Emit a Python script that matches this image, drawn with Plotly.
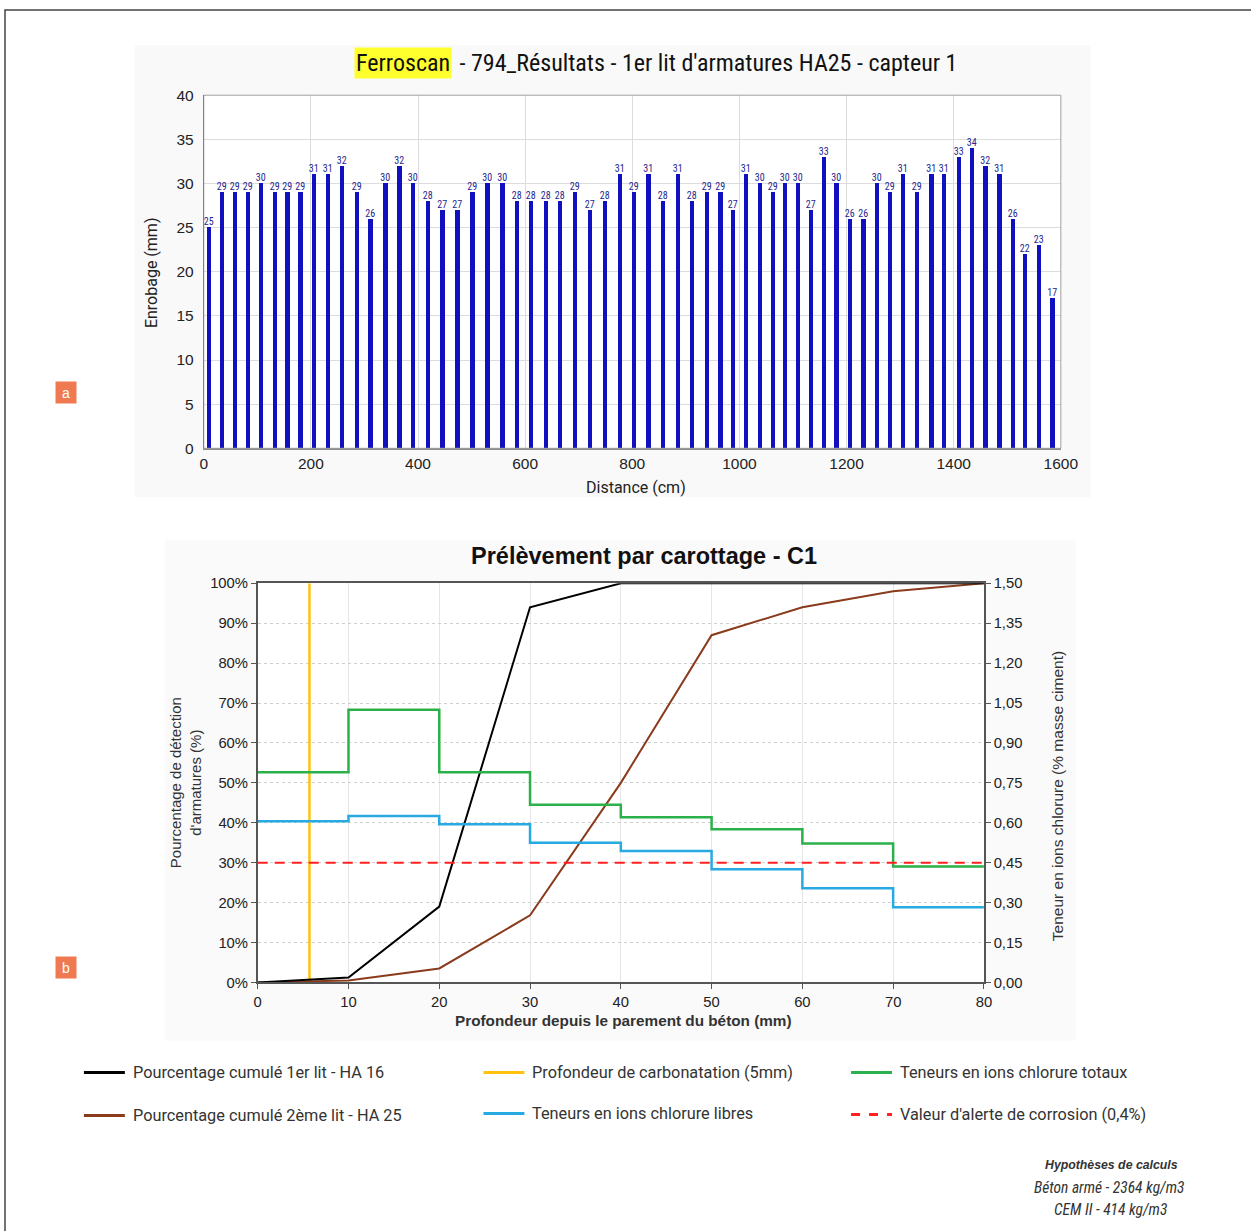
import plotly.graph_objects as go

W, H = 1251, 1231          # reference picture size
FW, FH = 1251, 1231        # figure size
# calibration of the photographed page: picture = offset + scale * figure pixel
OX, OY = 4.0, 8.8
SX, SY = 0.9835, 0.986

# ---------------- Top chart data (Ferroscan) ----------------
distance_cm = [9, 33, 58, 82, 107, 132, 156, 180, 205, 231,
               257, 285, 311, 339, 365, 390, 418, 445, 473, 501,
               529, 557, 584, 611, 638, 665, 692, 720, 748, 776,
               803, 830, 857, 885, 911, 939, 964, 988, 1012, 1038,
               1062, 1085, 1109, 1133, 1157, 1181, 1206, 1231, 1256, 1281,
               1305, 1331, 1358, 1382, 1409, 1434, 1459, 1485, 1510, 1533,
               1559, 1584]
enrobage_mm = [25, 29, 29, 29, 30, 29, 29, 29, 31, 31,
               32, 29, 26, 30, 32, 30, 28, 27, 27, 29,
               30, 30, 28, 28, 28, 28, 29, 27, 28, 31,
               29, 31, 28, 31, 28, 29, 29, 27, 31, 30,
               29, 30, 30, 27, 33, 30, 26, 26, 30, 29,
               31, 29, 31, 31, 33, 34, 32, 31, 26, 22,
               23, 17]

# ---------------- Bottom chart data (carottage C1) ----------------
depth_mm = [0, 10, 20, 30, 40, 50, 60, 70, 80]
cum_lit1_pct = [0, 1.2, 19, 94, 100, 100, 100, 100, 100]
cum_lit2_pct = [0, 0.5, 3.5, 16.8, 50, 87, 94, 98, 100]
step_start_mm = [0, 10, 20, 30, 40, 50, 60, 70]
chlorure_totaux = [0.79, 1.025, 0.79, 0.668, 0.621, 0.576, 0.522, 0.436]
chlorure_libres = [0.606, 0.625, 0.594, 0.525, 0.494, 0.425, 0.354, 0.282]
depth_end_mm = 80
carbonatation_mm = 5.7
alerte_corrosion = 0.45

legend_labels = ["Pourcentage cumulé 1er lit - HA 16",
                 "Pourcentage cumulé 2ème lit - HA 25",
                 "Profondeur de carbonatation (5mm)",
                 "Teneurs en ions chlorure libres",
                 "Teneurs en ions chlorure totaux",
                 "Valeur d'alerte de corrosion (0,4%)"]


def px(x):
    return (x - OX) / SX / FW


def py(y):
    return 1 - (y - OY) / SY / FH


NARROW = "Liberation Sans Narrow, Arial Narrow, Roboto Condensed, Roboto, sans-serif"
SANS = "Liberation Sans, Arial, sans-serif"
ROB = "Roboto, Liberation Sans, sans-serif"

fig = go.Figure()

# ---- Top chart bars ----
fig.add_trace(go.Bar(
    x=distance_cm, y=enrobage_mm, width=8,
    marker=dict(color="#1010C0", line=dict(width=0)),
    text=[str(v) for v in enrobage_mm], textposition="outside",
    constraintext="none", cliponaxis=False,
    textfont=dict(size=10, color="#26268F", family=NARROW),
    xaxis="x", yaxis="y", showlegend=False, hoverinfo="x+y"))

# ---- Bottom chart traces ----
step_x = step_start_mm + [depth_end_mm]
fig.add_trace(go.Scatter(
    x=step_x, y=chlorure_totaux + [chlorure_totaux[-1]], mode="lines",
    line=dict(color="#2BB04A", width=2.5, shape="hv"),
    xaxis="x2", yaxis="y3", showlegend=False))
fig.add_trace(go.Scatter(
    x=step_x, y=chlorure_libres + [chlorure_libres[-1]], mode="lines",
    line=dict(color="#27A9E1", width=2.5, shape="hv"),
    xaxis="x2", yaxis="y3", showlegend=False))
fig.add_trace(go.Scatter(
    x=[depth_mm[0], depth_end_mm], y=[alerte_corrosion, alerte_corrosion], mode="lines",
    line=dict(color="#FF2020", width=2, dash="10px,7px"),
    xaxis="x2", yaxis="y3", showlegend=False))
fig.add_trace(go.Scatter(
    x=[carbonatation_mm, carbonatation_mm], y=[0, 100], mode="lines",
    line=dict(color="#FFC20E", width=2.5),
    xaxis="x2", yaxis="y2", showlegend=False))
fig.add_trace(go.Scatter(
    x=depth_mm, y=cum_lit2_pct, mode="lines",
    line=dict(color="#8A3B1C", width=2),
    xaxis="x2", yaxis="y2", showlegend=False))
fig.add_trace(go.Scatter(
    x=depth_mm, y=cum_lit1_pct, mode="lines",
    line=dict(color="#000000", width=2),
    xaxis="x2", yaxis="y2", showlegend=False))

shapes = []
# outer frame (top & left edges visible)
shapes.append(dict(type="rect", xref="paper", yref="paper",
                   x0=max(px(5), 1.0 / FW), x1=1.05, y0=-0.05, y1=min(py(6), 1 - 1.0 / FH),
                   line=dict(color="#444", width=1.5), fillcolor="rgba(0,0,0,0)", layer="below"))
# faint panels
shapes.append(dict(type="rect", xref="paper", yref="paper",
                   x0=px(135), x1=px(1092), y0=py(497), y1=py(45),
                   line=dict(width=0), fillcolor="#F9F9F9", layer="below"))
shapes.append(dict(type="rect", xref="paper", yref="paper",
                   x0=px(165), x1=px(1077), y0=py(1040), y1=py(540),
                   line=dict(width=0), fillcolor="#FAFAFA", layer="below"))
# white plot areas
shapes.append(dict(type="rect", xref="paper", yref="paper",
                   x0=px(204), x1=px(1062), y0=py(448), y1=py(95),
                   line=dict(width=0), fillcolor="white", layer="below"))
shapes.append(dict(type="rect", xref="paper", yref="paper",
                   x0=px(258), x1=px(985), y0=py(982), y1=py(583),
                   line=dict(width=0), fillcolor="white", layer="below"))

annotations = []


def ann(x, y, text, size, family, color="#333", xanchor="center", yanchor="middle", **kw):
    annotations.append(dict(x=px(x), y=py(y), xref="paper", yref="paper",
                            xanchor=xanchor, yanchor=yanchor, text=text, showarrow=False,
                            font=dict(size=size, color=color, family=family), **kw))


# badges a / b
for lab, yc in (("a", 392), ("b", 967)):
    ann(66.5, yc, lab, 14, SANS, color="white", bgcolor="#EF7A52", width=18, height=19,
        borderpad=1)

# legend samples + texts
leg_pos = [(84, 1072, "#000000", "solid"), (84, 1115, "#8A3B1C", "solid"),
           (484, 1072, "#FFC20E", "solid"), (484, 1113, "#27A9E1", "solid"),
           (852, 1072, "#2BB04A", "solid"), (852, 1114, "#FF2020", "dash")]
for (x0, yc, col, dash), lab in zip(leg_pos, legend_labels):
    shapes.append(dict(type="line", xref="paper", yref="paper",
                       x0=px(x0), x1=px(x0 + 41), y0=py(yc), y1=py(yc),
                       line=dict(color=col, width=3, dash=dash)))
    ann(x0 + 47, yc, lab, 16.3, ROB, xanchor="left")

# top chart titles
ann(452, 63, "Ferroscan", 24, NARROW, color="#111", xanchor="right",
    bgcolor="#FFFF2E", borderpad=1)
ann(452, 63, " - 794_Résultats - 1er lit d'armatures HA25 - capteur 1", 24, NARROW,
    color="#111", xanchor="left")
ann(637, 487, "Distance (cm)", 16, ROB, color="#222")
ann(151, 272, "Enrobage (mm)", 16, ROB, color="#222", textangle=-90)

# bottom chart titles
ann(645, 556, "<b>Prélèvement par carottage - C1</b>", 23.5, SANS, color="#111")
ann(624, 1020, "<b>Profondeur depuis le parement du béton (mm)</b>", 15.3, SANS)
ann(186, 782, "Pourcentage de détection<br>d'armatures (%)", 15, SANS, textangle=-90)
ann(1059, 796, "Teneur en ions chlorure (% masse ciment)", 15.5, SANS, textangle=-90)

# hypotheses
ann(1113, 1165, "<b><i>Hypothèses de calculs</i></b>", 12.3, SANS)
ann(1110, 1188, "<i>Béton armé - 2364 kg/m3</i>", 15.5, NARROW)
ann(1112, 1210, "<i>CEM II - 414 kg/m3</i>", 15.5, NARROW)

tick_font_top = dict(size=15.5, color="#222", family=SANS)
tick_font_bot = dict(size=14.8, color="#222", family=SANS)

fig.update_layout(
    width=FW, height=FH, margin=dict(l=0, r=0, t=0, b=0),
    paper_bgcolor="white", plot_bgcolor="rgba(0,0,0,0)",
    separators=",.", showlegend=False, bargap=0,
    shapes=shapes, annotations=annotations,
    xaxis=dict(domain=[px(204), px(1062)], range=[0, 1600], dtick=200,
               showgrid=True, gridcolor="#DCDCDC", gridwidth=1,
               showline=True, linecolor="#8C8C8C", linewidth=2, mirror=False,
               ticks="", tickfont=tick_font_top, anchor="y", zeroline=False),
    yaxis=dict(domain=[py(448), py(95)], range=[0, 40], dtick=5,
               showgrid=True, gridcolor="#DCDCDC", gridwidth=1,
               showline=True, linecolor="#333", linewidth=1, mirror=False,
               ticks="", tickfont=tick_font_top, anchor="x", zeroline=False,
               ticklabelstandoff=6),
    xaxis2=dict(domain=[px(258), px(985)], range=[0, 80], dtick=10,
                showgrid=True, gridcolor="#E6E6E6", gridwidth=1,
                showline=True, linecolor="#555", linewidth=1.5, mirror=True,
                ticks="outside", ticklen=5, tickcolor="#555",
                tickfont=tick_font_bot, anchor="y2", zeroline=False),
    yaxis2=dict(domain=[py(982), py(583)], range=[0, 100], dtick=10, ticksuffix="%",
                showgrid=True, gridcolor="#CFCFCF", griddash="dot", gridwidth=1,
                showline=True, linecolor="#555", linewidth=1.5, mirror=True,
                ticks="outside", ticklen=5, tickcolor="#555",
                tickfont=tick_font_bot, anchor="x2", zeroline=False),
    yaxis3=dict(domain=[py(982), py(583)], range=[0, 1.5], dtick=0.15, tickformat=".2f",
                overlaying="y2", side="right", anchor="x2", showgrid=False,
                showline=True, linecolor="#555", linewidth=1.5,
                ticks="outside", ticklen=5, tickcolor="#555",
                tickfont=tick_font_bot, zeroline=False),
)

# frame of the top chart
fig.add_shape(type="rect", xref="paper", yref="paper",
              x0=px(204), x1=px(1062), y0=py(448), y1=py(95),
              line=dict(color="#A0A0A0", width=1), fillcolor="rgba(0,0,0,0)", layer="above")

fig.write_html("out.html")
